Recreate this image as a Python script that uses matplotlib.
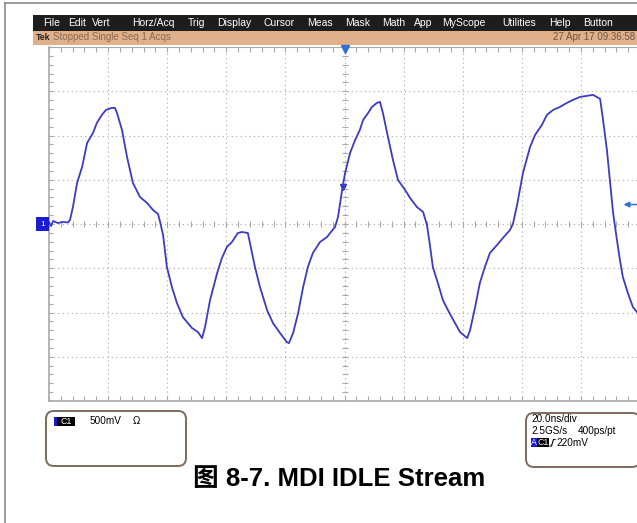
import matplotlib
matplotlib.use('Agg')
import matplotlib.pyplot as plt
from matplotlib.patches import Rectangle, FancyBboxPatch

plt.rcParams['font.family'] = ['Liberation Sans', 'Noto Sans CJK SC', 'DejaVu Sans']

# CH1 capture, MDI idle stream
t_ns = [0, 0.7, 1.4, 3.0, 4.7, 6.4, 7.1, 8.1, 9.5, 11.2, 12.9, 14.9, 16.2, 17.9,
        19.3, 21.3, 22.3, 23.0, 24.7, 26.4, 28.4, 30.8, 33.2, 35.2, 36.9, 37.6,
        38.6, 39.9, 41.6, 43.3, 45.3, 48.4, 50.4, 51.8, 52.8, 54.5, 56.9, 58.5,
        60.2, 61.9, 63.9, 65.3, 67.3, 68.0, 69.7, 71.4, 73.8, 75.8, 78.2, 80.5,
        81.2, 82.6, 84.3, 86.0, 87.6, 89.3, 91.7, 94.1, 95.4, 96.8, 97.8, 99.2,
        100.2, 101.9, 103.6, 105.2, 106.3, 108.0, 109.3, 111.0, 112.0, 113.0,
        114.7, 116.4, 118.1, 120.5, 122.2, 124.5, 126.6, 127.9, 128.9, 129.9,
        131.6, 133.3, 135.0, 137.4, 139.1, 141.5, 142.5, 144.2, 145.8, 147.5,
        149.2, 151.6, 153.6, 156.0, 157.0, 158.4, 160.4, 162.8, 164.5, 166.8,
        168.5, 170.6, 172.9, 175.3, 177.3, 179.7, 182.1, 184.1, 186.5, 187.5,
        188.8, 189.8, 190.9, 192.2, 193.2, 194.2, 195.9, 197.6, 199.0]
v_mv = [23, -23, 34, 11, 23, 17, 45, 192, 464, 645, 916, 1029, 1142, 1233,
        1289, 1312, 1312, 1255, 1063, 758, 464, 305, 237, 158, 113, 23,
        -124, -486, -713, -894, -1052, -1176, -1221, -1289, -1165, -860, -554, -385,
        -260, -204, -102, -90, -102, -215, -486, -713, -973, -1120, -1233, -1335,
        -1346, -1233, -1007, -713, -486, -328, -204, -147, -90, -34, 79, 385,
        577, 803, 950, 1063, 1176, 1255, 1323, 1369, 1380, 1255,
        984, 724, 498, 385, 294, 192, 136, -11, -238, -486,
        -667, -860, -973, -1120, -1221, -1289, -1199, -939, -667, -486,
        -328, -238, -158, -68, 0, 215, 577, 871, 1007, 1120,
        1233, 1289, 1323, 1369, 1402, 1436, 1448, 1459, 1414, 1176,
        837, 498, 124, -181, -407, -599, -780, -939, -995]

NS_PER_DIV = 20
MV_PER_DIV = 500
N_HDIV = 10
N_VDIV = 8
TRIG_POS_NS = 100
TRIG_LEVEL_MV = 220

menu_items = ['File', 'Edit', 'Vert', 'Horz/Acq', 'Trig', 'Display', 'Cursor',
              'Meas', 'Mask', 'Math', 'App', 'MyScope', 'Utilities', 'Help', 'Button']
menu_x = [43, 68, 92, 132, 188, 217, 263, 307, 345, 382, 414, 442, 502, 549, 583]

W, H = 637, 523
trace_col = '#3b3bc4'
grid_col = '#a8a8a8'
mark_blue = '#2f6fd6'

fig = plt.figure(figsize=(W / 100, H / 100), dpi=100)
fig.patch.set_facecolor('white')

# background layer in pixel units for the scope chrome
bg = fig.add_axes([0, 0, 1, 1])
bg.set_xlim(0, W)
bg.set_ylim(H, 0)
bg.axis('off')

bg.plot([4.5, 4.5], [3, H], color='#8c8c8c', lw=1.2)
bg.plot([4.5, W], [3, 3], color='#8c8c8c', lw=1.2)

bg.add_patch(Rectangle((33, 15), W - 33, 16, fc='#1d1d1d', ec='none'))
for name, x in zip(menu_items, menu_x):
    bg.text(x, 23, name, color='white', fontsize=7.5, va='center', ha='left')

bg.add_patch(Rectangle((33, 31), W - 33, 13.5, fc='#dfb08a', ec='none'))
bg.text(36, 37.5, 'Tek', fontsize=6.3, fontweight='bold', color='#222222', va='center')
bg.text(53, 37.5, 'Stopped Single Seq 1 Acqs', fontsize=7, color='#8a6a52', va='center')
bg.text(635, 37.5, '27 Apr 17 09:36:58', fontsize=7, color='#6c5442', va='center', ha='right')

# readout boxes under the graticule
for x0, y0, w, h in [(46, 411, 140, 55), (526, 413, 114, 54)]:
    bg.add_patch(FancyBboxPatch((x0, y0), w, h, boxstyle='round,pad=0,rounding_size=8',
                                fc='white', ec='#7d6b5c', lw=1.4))

bg.add_patch(Rectangle((54, 417), 3, 8.5, fc='#1a1ad2', ec='none'))
bg.add_patch(Rectangle((57, 417), 18, 8.5, fc='black', ec='none'))
bg.text(66, 421.5, 'C1', color='white', fontsize=6.3, ha='center', va='center')
bg.text(90, 421.5, '%dmV' % MV_PER_DIV, fontsize=7.2, va='center')
bg.text(133, 421.5, 'Ω', fontsize=7.2, va='center')

bg.text(531, 418.5, '%.1fns/div' % NS_PER_DIV, fontsize=7.2, va='center')
bg.text(531, 430.5, '2.5GS/s', fontsize=7.2, va='center')
bg.text(578, 430.5, '400ps/pt', fontsize=7.2, va='center')
bg.add_patch(Rectangle((531, 438), 6, 9, fc='#1a1ad2', ec='none'))
bg.text(534, 442.5, 'A', color='white', fontsize=6.3, ha='center', va='center')
bg.add_patch(Rectangle((537, 438), 11.5, 9, fc='black', ec='none'))
bg.text(542.8, 442.5, 'C1', color='white', fontsize=6.3, ha='center', va='center')
bg.plot([550, 551.5, 553.5, 555], [446, 446, 439.5, 439.5], color='black', lw=0.8)
bg.text(556, 442.5, '%dmV' % TRIG_LEVEL_MV, fontsize=7.2, va='center')

bg.text(339, 479, '图 8-7. MDI IDLE Stream', ha='center', va='center',
        fontsize=18.5, fontweight='bold', color='black')

# graticule: 10 x 8 divisions
gx0, gx1, gy0, gy1 = 49, 640, 47, 401
ax = fig.add_axes([gx0 / W, 1 - gy1 / H, (gx1 - gx0) / W, (gy1 - gy0) / H])
ax.patch.set_alpha(0)
t_max = NS_PER_DIV * N_HDIV
v_half = MV_PER_DIV * N_VDIV / 2
ax.set_xlim(0, t_max)
ax.set_ylim(-v_half, v_half)
ax.axis('off')

px_t = t_max / (gx1 - gx0)
px_v = 2 * v_half / (gy1 - gy0)

for i in range(1, N_HDIV):
    ax.axvline(i * NS_PER_DIV, color=grid_col, lw=0.8, ls=(0, (1, 3)))
for j in range(1, N_VDIV):
    ax.axhline(-v_half + j * MV_PER_DIV, color=grid_col, lw=0.8, ls=(0, (1, 3)))

ax.plot([0, 0], [-v_half, v_half], color=grid_col, lw=1.2, clip_on=False)
ax.plot([0, t_max], [v_half, v_half], color=grid_col, lw=0.8, clip_on=False)
ax.plot([0, t_max], [-v_half, -v_half], color=grid_col, lw=1.2, clip_on=False)

minor_t = [k * NS_PER_DIV / 5 for k in range(N_HDIV * 5 + 1)]
minor_v = [-v_half + k * MV_PER_DIV / 5 for k in range(N_VDIV * 5 + 1)]
ax.vlines(minor_t, -3 * px_v, 3 * px_v, color=grid_col, lw=0.8)
ax.hlines(minor_v, TRIG_POS_NS - 3 * px_t, TRIG_POS_NS + 3 * px_t, color=grid_col, lw=0.8)
ax.vlines(minor_t, v_half - 5 * px_v, v_half, color=grid_col, lw=0.8)
ax.vlines(minor_t, -v_half, -v_half + 5 * px_v, color=grid_col, lw=0.8)
ax.hlines(minor_v, 0, 4 * px_t, color=grid_col, lw=0.8)

ax.plot(t_ns, v_mv, color=trace_col, lw=1.3)

# ground, trigger position and trigger level markers
ax.annotate('1', xy=(0, 0), xytext=(-6.5, 0), textcoords='offset pixels',
            ha='center', va='center', fontsize=6, color='white',
            bbox=dict(boxstyle='square,pad=0.45', fc='#1a1ad2', ec='none'),
            annotation_clip=False)
ax.plot(TRIG_POS_NS, v_half - 2 * px_v, marker='v', ms=6, color=mark_blue,
        clip_on=False)
ax.plot(99.4, 420, marker='v', ms=4, color=trace_col)
ax.annotate('', xy=(193.5, TRIG_LEVEL_MV), xytext=(200, TRIG_LEVEL_MV),
            arrowprops=dict(arrowstyle='-|>', color=mark_blue, lw=1.1, mutation_scale=8),
            annotation_clip=False)

fig.savefig('out.png', dpi=100)
